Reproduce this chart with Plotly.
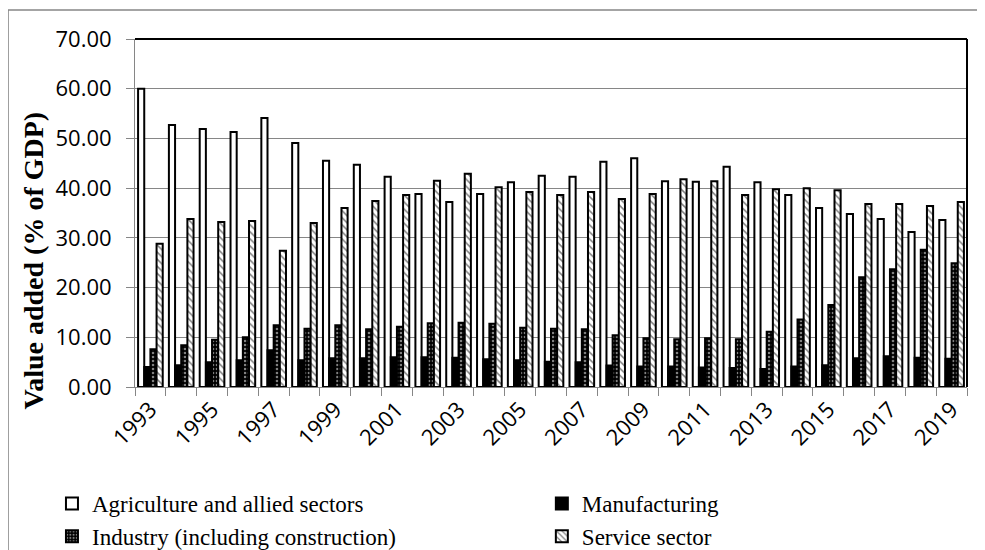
import plotly.graph_objects as go

years = list(range(1993, 2020))

agriculture = [60.0, 52.7, 51.9, 51.3, 54.1, 49.1, 45.5, 44.7, 42.3, 38.8,
               37.2, 38.8, 41.2, 42.5, 42.3, 45.3, 46.0, 41.4, 41.3, 44.3,
               41.2, 38.6, 36.0, 34.8, 33.8, 31.2, 33.6]
manufacturing = [4.0, 4.4, 5.0, 5.4, 7.4, 5.4, 5.8, 5.8, 6.0, 6.0,
                 5.9, 5.6, 5.4, 5.1, 5.0, 4.3, 4.1, 4.1, 3.9, 3.8,
                 3.6, 4.1, 4.4, 5.8, 6.2, 5.9, 5.7]
industry = [7.6, 8.4, 9.5, 10.0, 12.4, 11.7, 12.4, 11.6, 12.1, 12.8,
            12.9, 12.7, 11.9, 11.7, 11.6, 10.4, 9.8, 9.6, 9.8, 9.6,
            11.1, 13.6, 16.5, 22.1, 23.7, 27.6, 24.9]
services = [28.8, 33.8, 33.2, 33.4, 27.4, 33.0, 36.0, 37.4, 38.6, 41.5,
            42.9, 40.2, 39.2, 38.6, 39.2, 37.8, 38.8, 41.8, 41.4, 38.6,
            39.8, 40.0, 39.6, 36.8, 36.8, 36.4, 37.2]

GREY = '#868686'
SERIF = 'Liberation Serif, Times New Roman, serif'

fig = go.Figure()
fig.add_trace(go.Bar(x=years, y=agriculture, name='Agriculture and allied sectors',
                     legend='legend',
                     marker=dict(color='white', line=dict(color='black', width=2))))
fig.add_trace(go.Bar(x=years, y=manufacturing, name='Manufacturing',
                     legend='legend2',
                     marker=dict(color='black', line=dict(color='black', width=2))))
fig.add_trace(go.Bar(x=years, y=industry, name='Industry (including construction)',
                     legend='legend',
                     marker=dict(color='black', line=dict(color='black', width=2),
                                 pattern=dict(shape='.', fgcolor='white', bgcolor='black',
                                              size=4, solidity=0.35))))
fig.add_trace(go.Bar(x=years, y=services, name='Service sector',
                     legend='legend2',
                     marker=dict(color='white', line=dict(color='black', width=2),
                                 pattern=dict(shape='\\', fgcolor='black', bgcolor='white',
                                              size=5, solidity=0.3))))

# two stacked legends give the two-column layout of the original
legend_style = dict(orientation='v', yanchor='top', xanchor='left', y=-0.273,
                    tracegroupgap=0, itemwidth=30, itemsizing='constant',
                    bgcolor='rgba(0,0,0,0)',
                    font=dict(family=SERIF, size=23, color='black'))

fig.update_layout(
    width=985, height=550,
    margin=dict(l=127, r=26, t=31, b=171, autoexpand=False),
    plot_bgcolor='white', paper_bgcolor='white',
    barmode='group', bargap=0.2, bargroupgap=0,
    font=dict(family='Open Sans', color='black'),
    showlegend=True,
    legend=dict(legend_style, x=-0.0998),
    legend2=dict(legend_style, x=0.489),
    xaxis=dict(range=[1992.5, 2019.5], tickmode='array', tickvals=years[::2],
               tickangle=-45, ticks='', showgrid=False, automargin=False,
               showline=True, linecolor=GREY, linewidth=1,
               tickfont=dict(family='Open Sans', size=22),
               minor=dict(tick0=1992.5, dtick=1, ticks='outside', ticklen=8,
                          tickcolor=GREY, showgrid=False)),
    yaxis=dict(range=[0, 70], dtick=10, tickformat='.2f', ticks='outside',
               ticklen=8, tickcolor=GREY, showgrid=True, gridcolor=GREY,
               gridwidth=1, showline=True, linecolor=GREY, linewidth=1,
               zeroline=False, automargin=False,
               tickfont=dict(family='Open Sans', size=22),
               ticklabelstandoff=10),
)

# y title placed by hand, it sits lower than the plot center
fig.add_annotation(text='<b>Value added (% of GDP)</b>', textangle=-90,
                   xref='paper', yref='paper', x=-0.122, y=0.365,
                   xanchor='center', yanchor='middle', showarrow=False,
                   font=dict(family=SERIF, size=28, color='black'))

# black top/right frame of the plot area
fig.add_shape(type='line', xref='paper', yref='paper', x0=0, x1=1, y0=1, y1=1,
              line=dict(color='black', width=2))
fig.add_shape(type='line', xref='paper', yref='paper', x0=1, x1=1, y0=0, y1=1,
              line=dict(color='black', width=2))
# outer chart border (cropped at right and bottom)
fig.add_shape(type='rect', xref='paper', yref='paper', x0=-0.1526, x1=1.2,
              y0=-0.7, y1=1.0833, line=dict(color=GREY, width=1.5), layer='below')

fig.write_html('out.html')
